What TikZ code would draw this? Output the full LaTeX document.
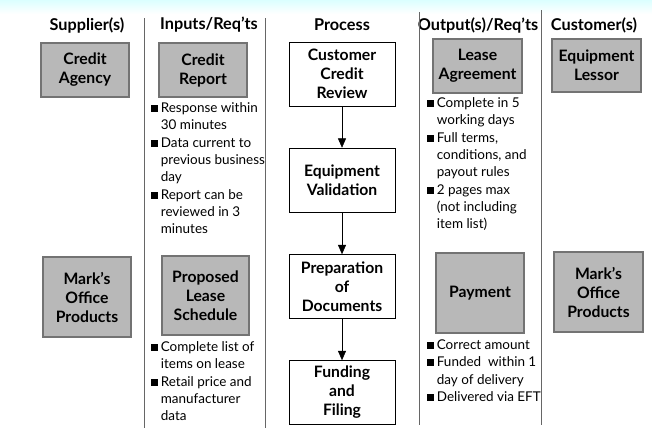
\documentclass[tikz,border=0pt]{standalone}
\usepackage{fontspec}
\setmainfont{Lato}
\usetikzlibrary{arrows.meta}
\newcommand{\sqb}{\rule[0.3pt]{5.2pt}{5.2pt}}
\tikzset{
  head/.style={font=\fontsize{12.2}{14}\selectfont\bfseries},
  greybox/.style={draw=black!55, fill=black!28, thick, align=center, font=\fontsize{11.8}{14.25}\selectfont\bfseries},
  procbox/.style={draw, thin, fill=white, align=center, minimum width=106*0.75pt, minimum height=64*0.75pt, font=\fontsize{11.8}{14.25}\selectfont\bfseries},
  reqlist/.style={anchor=north west, inner sep=0pt, font=\fontsize{10.1}{13}\selectfont},
  colline/.style={draw=black!60, thin},
  line/.style={-{Triangle[width=6pt,length=7pt]}, thin}
}
\newcommand{\reqs}[1]{\begin{tabular}{@{}l@{\hspace{2pt}}l@{}}#1\end{tabular}}

\begin{document}
\begin{tikzpicture}[x=0.75pt, y=-0.75pt]
    \useasboundingbox (0,0) rectangle (652,436);
    \shade[top color=cyan!14, bottom color=white] (0,0) rectangle (652,14);

    % column headings
    \node[head] (hsup)  at (87,25)  {Supplier(s)};
    \node[head] (hin)   at (209,25) {Inputs/Req'ts};
    \node[head] (hproc) at (342,25) {Process};
    \node[head] (hout)  at (478,25) {Output(s)/Req'ts};
    \node[head] (hcus)  at (594,25) {Customer(s)};

    % column rules
    \draw[colline] (144,18) -- (144,428);
    \draw[colline] (265,18) -- (265,428);
    \draw[colline] (419,12) -- (419,425);
    \draw[colline] (541,10) -- (541,425);

    % suppliers and customers
    \node[greybox, minimum width=88*0.75pt, minimum height=54*0.75pt] (agency) at (85,70)    {Credit\\Agency};
    \node[greybox, minimum width=88*0.75pt, minimum height=80*0.75pt] (marks)  at (87,297)   {Mark's\\Office\\Products};
    \node[greybox, minimum width=89*0.75pt, minimum height=53*0.75pt] (lessor) at (596.5,65.5) {Equipment\\Lessor};
    \node[greybox, minimum width=89*0.75pt, minimum height=80*0.75pt] (marksc) at (598.5,292) {Mark's\\Office\\Products};

    % inputs and outputs
    \node[greybox, minimum width=88*0.75pt, minimum height=54*0.75pt] (crep)   at (203,70)    {Credit\\Report};
    \node[greybox, minimum width=87*0.75pt, minimum height=79*0.75pt] (sched)  at (205.5,295.5) {Proposed\\Lease\\Schedule};
    \node[greybox, minimum width=89*0.75pt, minimum height=54*0.75pt] (lease)  at (477.5,66)  {Lease\\Agreement};
    \node[greybox, minimum width=88*0.75pt, minimum height=80*0.75pt] (pay)    at (480,293)   {Payment};

    % requirements
    \node[reqlist] (crepreq) at (151,100) {\reqs{%
        \sqb & Response within\\ & 30 minutes\\
        \sqb & Data current to\\ & previous business\\ & day\\
        \sqb & Report can be\\ & reviewed in 3\\ & minutes}};
    \node[reqlist] (schedreq) at (151,339) {\reqs{%
        \sqb & Complete list of\\ & items on lease\\
        \sqb & Retail price and\\ & manufacturer\\ & data}};
    \node[reqlist] (leasereq) at (427,95) {\reqs{%
        \sqb & Complete in 5\\ & working days\\
        \sqb & Full terms,\\ & conditions, and\\ & payout rules\\
        \sqb & 2 pages max\\ & (not including\\ & item list)}};
    \node[reqlist] (payreq) at (427,337) {\reqs{%
        \sqb & Correct amount\\
        \sqb & Funded\ \ within 1\\ & day of delivery\\
        \sqb & Delivered via EFT}};

    % process steps
    \node[procbox] (review) at (342,74)    {Customer\\Credit\\Review};
    \node[procbox] (valid)  at (342,180)   {Equipment\\Validation};
    \node[procbox] (prep)   at (342,286.5) {Preparation\\of\\Documents};
    \node[procbox] (fund)   at (342,392.5) {Funding\\and\\Filing};

    \draw[line] (review) -- (valid);
    \draw[line] (valid) -- (prep);
    \draw[line] (prep) -- (fund);
\end{tikzpicture}
\end{document}
